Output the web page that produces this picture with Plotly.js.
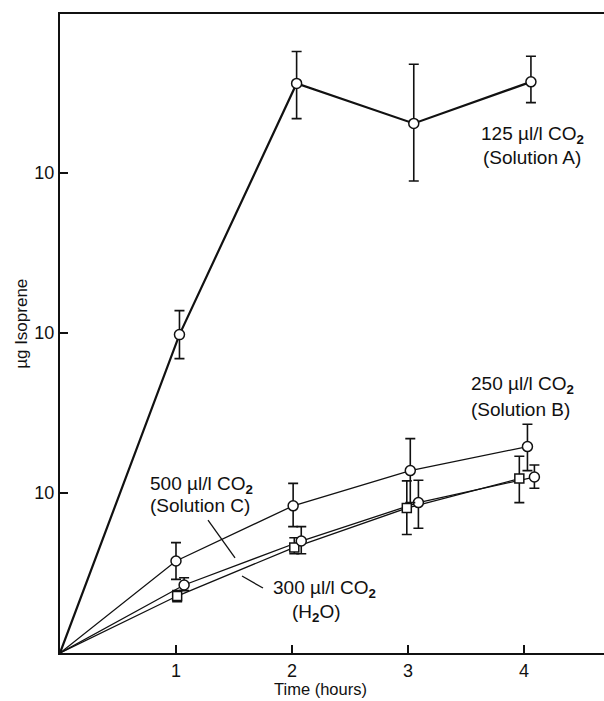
<!DOCTYPE html>
<html>
<head>
<meta charset="utf-8">
<script src="https://cdn.plot.ly/plotly-3.0.1.min.js"></script>
<style>html,body{margin:0;padding:0;background:#fff;}#chart{width:604px;height:701px;}</style>
</head>
<body>
<div id="chart"></div>
<script>
// Solution A (125 µl/l CO2)
var xA = [0, 1.03, 2.04, 3.05, 4.06];
var yA = [0, 19.9, 35.6, 33.1, 35.7];
var eAplus = [0, 1.5, 2.0, 3.7, 1.6];
var eAminus = [0, 1.5, 2.2, 3.6, 1.3];
// Solution B (250 µl/l CO2)
var xB = [0, 1.0, 2.01, 3.02, 4.03];
var yB = [0, 5.75, 9.2, 11.4, 12.9];
var eBplus = [0, 1.15, 1.4, 2.0, 1.4];
var eBminus = [0, 1.15, 1.3, 2.0, 1.5];
// Solution C (500 µl/l CO2)
var xC = [0, 1.07, 2.08, 3.09, 4.09];
var yC = [0, 4.25, 7.0, 9.4, 11.0];
var eCplus = [0, 0.45, 0.9, 1.4, 0.75];
var eCminus = [0, 0.35, 0.8, 1.6, 0.7];
// H2O (300 µl/l CO2)
var xW = [0, 1.01, 2.02, 2.99, 3.96];
var yW = [0, 3.56, 6.6, 9.06, 10.9];
var eWplus = [0, 0.35, 0.6, 1.7, 1.4];
var eWminus = [0, 0.35, 0.4, 1.65, 1.5];
// axis ticks
var xTickVals = [1, 2, 3, 4];
var xTickText = ["1", "2", "3", "4"];
var yTickVals = [10, 20, 30];
var yTickText = ["10", "10", "10"];

var ink = "#111";
var fnt = "Liberation Sans, Arial, sans-serif";

function lineTrace(x, y, lw) {
  return {x: x, y: y, type: "scatter", mode: "lines",
          line: {color: ink, width: lw}, hoverinfo: "skip", showlegend: false};
}
function markTrace(x, y, ep, em, sym, msize) {
  return {
    x: x.slice(1), y: y.slice(1), type: "scatter", mode: "markers",
    marker: {symbol: sym, size: msize, color: "#fff", line: {color: ink, width: 1.5}},
    error_y: {type: "data", symmetric: false, array: ep.slice(1), arrayminus: em.slice(1),
              color: ink, thickness: 1.6, width: 5},
    hoverinfo: "skip", showlegend: false, cliponaxis: false
  };
}

var traces = [
  lineTrace(xW, yW, 1.3), lineTrace(xC, yC, 1.3), lineTrace(xB, yB, 1.3), lineTrace(xA, yA, 2.2),
  markTrace(xW, yW, eWplus, eWminus, "square", 9),
  markTrace(xC, yC, eCplus, eCminus, "circle", 10),
  markTrace(xB, yB, eBplus, eBminus, "circle", 10),
  markTrace(xA, yA, eAplus, eAminus, "circle", 10)
];

function ann(x, y, t) {
  return {x: x, y: y, xref: "x", yref: "y", text: t, showarrow: false,
          font: {family: fnt, size: 19, color: ink}, xanchor: "center", yanchor: "middle"};
}

var layout = {
  width: 604, height: 701,
  margin: {l: 60, r: 0, t: 14, b: 48},
  paper_bgcolor: "#fff", plot_bgcolor: "#fff",
  font: {family: fnt, color: ink, size: 17},
  xaxis: {
    range: [0, 4.69], showgrid: false, zeroline: false,
    showline: true, linecolor: ink, linewidth: 2, mirror: true,
    ticks: "inside", ticklen: 8, tickwidth: 1.5, tickcolor: ink,
    tickvals: xTickVals, ticktext: xTickText,
    tickfont: {family: fnt, size: 18, color: ink}
  },
  yaxis: {
    range: [0, 39.94], showgrid: false, zeroline: false,
    showline: true, linecolor: ink, linewidth: 2,
    ticks: "inside", ticklen: 8, tickwidth: 1.5, tickcolor: ink,
    tickvals: yTickVals, ticktext: yTickText,
    tickfont: {family: fnt, size: 18, color: ink}
  },
  annotations: [
    {x: -0.07, y: 0.515, xref: "paper", yref: "paper", text: "µg Isoprene", textangle: -90,
     showarrow: false, font: {family: fnt, size: 17, color: ink}, xanchor: "center", yanchor: "middle"},
    {x: 0.478, y: -0.056, xref: "paper", yref: "paper", text: "Time (hours)",
     showarrow: false, font: {family: fnt, size: 16.5, color: ink}, xanchor: "center", yanchor: "middle"},
    ann(4.07, 32.4, "125 µl/l CO<sub><b>2</b></sub>"),
    ann(4.07, 31.0, "(Solution A)"),
    ann(3.99, 16.75, "250 µl/l CO<sub><b>2</b></sub>"),
    ann(3.97, 15.2, "(Solution B)"),
    ann(1.22, 10.5, "500 µl/l CO<sub><b>2</b></sub>"),
    ann(1.21, 9.2, "(Solution C)"),
    ann(2.28, 4.0, "300 µl/l CO<sub><b>2</b></sub>"),
    ann(2.21, 2.5, "(H<sub><b>2</b></sub>O)")
  ],
  shapes: [
    {type: "line", xref: "x", yref: "y", x0: 1.276, y0: 8.31, x1: 1.509, y1: 5.94,
     line: {color: ink, width: 1.3}},
    {type: "line", xref: "x", yref: "y", x0: 1.75, y0: 4.06, x1: 1.569, y1: 4.81,
     line: {color: ink, width: 1.3}}
  ]
};

Plotly.newPlot("chart", traces, layout, {staticPlot: true, displayModeBar: false});
</script>
</body>
</html>
